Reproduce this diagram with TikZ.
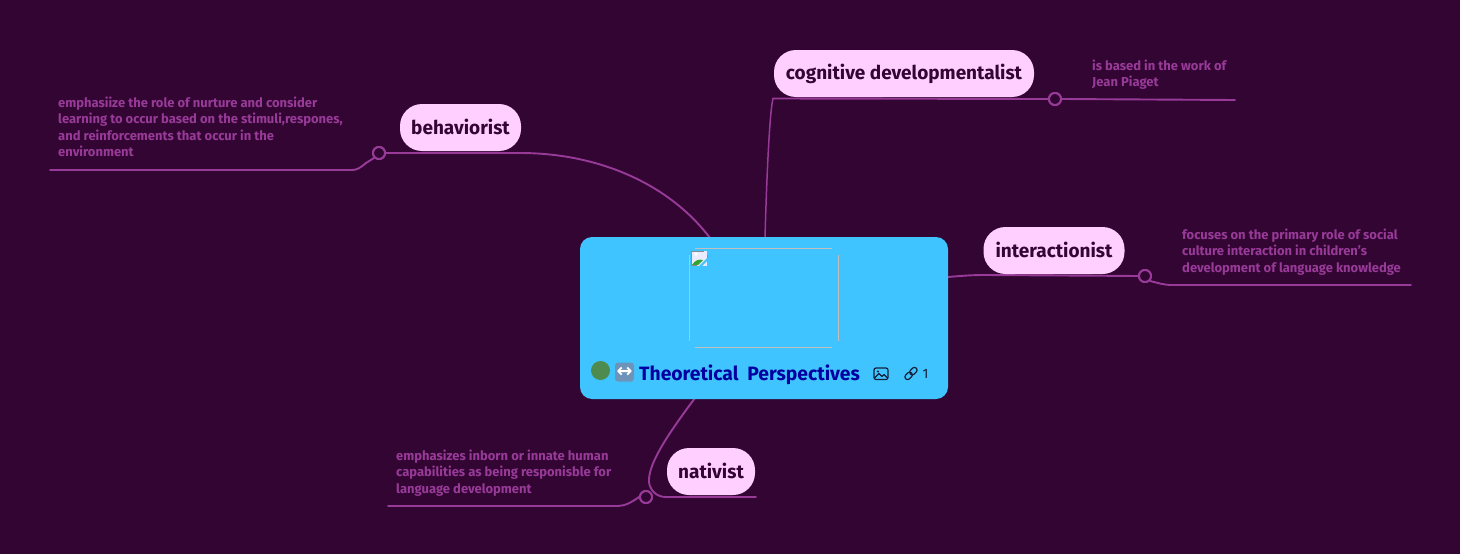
\documentclass[tikz,border=0pt]{standalone}
\usepackage{fontspec}
\setmainfont{Fira Sans}
\newfontfamily\symfont{DejaVu Sans}
\definecolor{bgc}{HTML}{330533}
\definecolor{linec}{HTML}{983A98}
\definecolor{pill}{HTML}{FFD0FF}
\definecolor{pilltext}{HTML}{330533}
\definecolor{centerc}{HTML}{40C4FF}
\definecolor{titlec}{HTML}{0000A0}
\definecolor{noteclr}{HTML}{983A98}
\definecolor{frameclr}{HTML}{C4BEBE}
\definecolor{dotc}{HTML}{4E8B4E}
\definecolor{swapc}{HTML}{6E93B8}
\definecolor{iconc}{HTML}{14203A}
\tikzset{
  x=1pt,y=-1pt,
  conn/.style={draw=linec,line width=1.9pt,line cap=round},
  thinconn/.style={draw=linec,line width=1.5pt,line cap=round},
  ring/.style={circle,draw=linec,fill=bgc,line width=2pt,minimum size=12pt,inner sep=0pt},
  topic/.style={rounded corners=22pt,fill=pill,text=pilltext,font=\fontsize{19}{20}\selectfont\bfseries,inner sep=0pt,minimum height=47pt,anchor=center},
  note/.style={text=noteclr,font=\fontsize{13}{16.2}\selectfont\bfseries,align=left,inner sep=0pt,anchor=north west},
  centerbox/.style={fill=centerc,rounded corners=12pt,minimum width=368pt,minimum height=162pt,inner sep=0pt},
  iconl/.style={draw=iconc,line width=1.2pt,line cap=round,line join=round},
  frameedge/.style={draw=frameclr,line width=1pt}
}
\begin{document}
\begin{tikzpicture}
\fill[bgc] (0,0) rectangle (1460,554);
\useasboundingbox (0,0) rectangle (1460,554);
% anchors
\coordinate (bEnd) at (50,170);
\coordinate (bBend) at (352,170);
\coordinate (cEnd) at (1235,100);
\coordinate (iEnd) at (1411,285);
\coordinate (iBend) at (1172,285);
\coordinate (nEnd) at (388,506);
\coordinate (nBend) at (618,506);
\coordinate (nTail) at (756,497);
\coordinate (bRoot) at (710,238);
\coordinate (cRoot) at (765,238);
\coordinate (iRoot) at (948,277);
\coordinate (nRoot) at (695,398);
\coordinate (bUnder) at (520,153);
\coordinate (cUnder) at (773,98.5);
\coordinate (iUnder) at (985,275);
\coordinate (nUnder) at (666,497);
\node[ring] (bRing) at (379,153) {};
\node[ring] (cRing) at (1055,99) {};
\node[ring] (iRing) at (1145,276) {};
\node[ring] (nRing) at (646,497) {};
% connectors
\draw[conn] (bRoot) .. controls (670,185) and (600,153) .. (bUnder) -- (bRing.east);
\draw[conn] (bRing.south west) -- (366,163) .. controls (360,168) and (357,170) .. (bBend) -- (bEnd);
\draw[thinconn] (cRoot) .. controls (767,165) and (770,110) .. (cUnder);
\draw[conn] (cUnder) -- (cRing.west);
\draw[conn] (cRing.east) -- (cEnd);
\draw[conn] (iRoot) .. controls (960,276) and (970,275) .. (iUnder) -- (iRing.west);
\draw[conn] (iRing.south east) .. controls (1158,283) and (1164,285) .. (iBend) -- (iEnd);
\draw[conn] (nRoot) .. controls (665,438) and (648,465) .. (649,482) .. controls (650,490) and (656,497) .. (nUnder) -- (nTail);
\draw[conn] (nRing.west) .. controls (632,502) and (625,506) .. (nBend) -- (nEnd);
% rings on top of lines
\node[ring] at (bRing) {};
\node[ring] at (cRing) {};
\node[ring] at (iRing) {};
\node[ring] at (nRing) {};
% topics
\node[topic,minimum width=121pt] (behaviorist) at (460.5,127.5) {\raisebox{1pt}{behaviorist}};
\node[topic,minimum width=260pt] (cognitive) at (904,73.5) {\raisebox{1pt}{cognitive developmentalist}};
\node[topic,minimum width=141pt] (interactionist) at (1054,250.5) {\raisebox{1pt}{interactionist}};
\node[topic,minimum width=88pt] (nativist) at (711,471.5) {\raisebox{1pt}{nativist}};
% notes
\node[note] (bNote) at (58,97) {emphasiize the role of nurture and consider\\learning to occur based on the stimuli,respones,\\and reinforcements that occur in the\\environment};
\node[note] (cNote) at (1092,60) {is based in the work of\\Jean Piaget};
\node[note] (iNote) at (1182,229) {focuses on the primary role of social\\culture interaction in children's\\development of language knowledge};
\node[note] (nNote) at (396,450) {emphasizes inborn or innate human\\capabilities as being responisble for\\language development};
% central
\node[centerbox] (central) at (764,318) {};
\draw[frameedge] (695,248.5) -- (832,248.5);
\draw[frameedge] (695,347.5) -- (832,347.5);
\draw[frameedge] (689.5,255) -- (689.5,341);
\draw[frameedge] (838.5,255) -- (838.5,341);
% broken image icon
\fill[white!78!blue!35] (691,251) rectangle (707,266);
\fill[black!45] (691,250.5) rectangle (704,251.5);
\fill[black!45] (691,250.5) rectangle (692,266);
\fill[black!45] (706.5,255) rectangle (707.5,258);
\fill[black!45] (691,265) rectangle (697,266);
\fill[green!55!black!80] (692,265) .. controls (695,260) and (699,259) .. (703,260) -- (698,265) -- cycle;
\fill[centerc] (699,266) -- (707,258) -- (707,261) -- (702,266) -- cycle;
\fill[white] (696,254) circle (1.8pt);
% title row
\node[circle,fill=dotc,minimum size=19pt,inner sep=0pt] (dot) at (600.5,370.5) {};
\node[fill=swapc,rounded corners=3pt,minimum size=19pt,inner sep=0pt,text=white,font=\symfont\fontsize{19}{19}\selectfont\bfseries] (swap) at (624.5,372) {↔};
\node[text=titlec,font=\fontsize{19.3}{22}\selectfont\bfseries,inner sep=0pt,anchor=base west] (title) at (639,380) {Theoretical\hspace{0.22em} Perspectives};
% image icon
\draw[iconl,rounded corners=2pt] (874,368) rectangle (888,379.5);
\draw[iconl] (874.5,378) -- (879,373.5) -- (882,376.5) -- (884,374.5) -- (887.5,378);
\fill[iconc] (878,371.5) circle (1.2pt);
% link icon
\begin{scope}[shift={(911,373.5)},rotate=45]
\draw[iconl,rounded corners=2.6pt] (-7.5,-2.7) rectangle (0.8,2.7);
\draw[iconl,rounded corners=2.6pt] (-0.8,-2.7) rectangle (7.5,2.7);
\end{scope}
\node[text=iconc,font=\fontsize{13.5}{14}\selectfont,inner sep=0pt] (count) at (925.5,373.5) {1};
\end{tikzpicture}
\end{document}
